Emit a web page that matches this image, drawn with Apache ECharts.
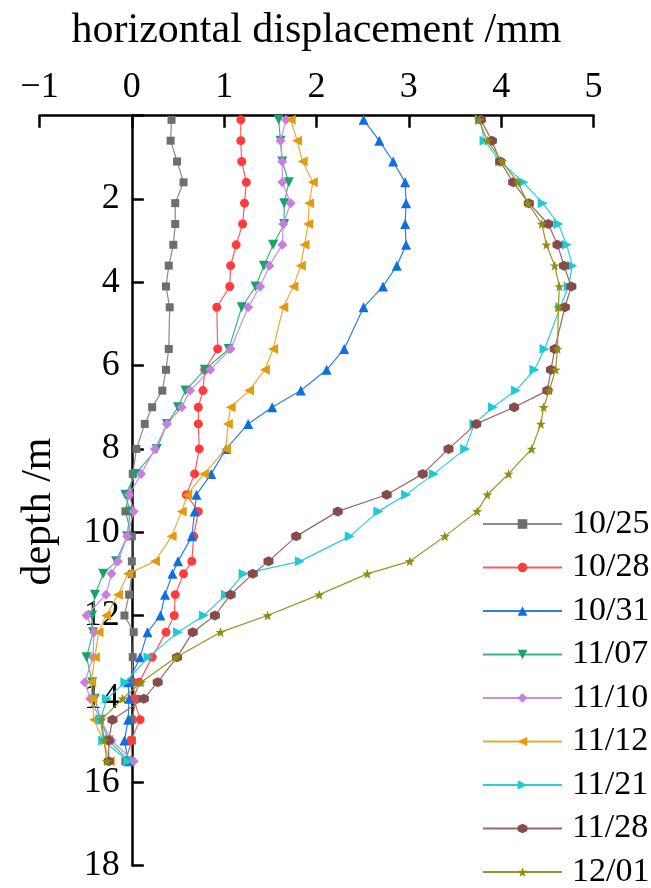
<!DOCTYPE html>
<html>
<head>
<meta charset="utf-8">
<script src="https://cdn.jsdelivr.net/npm/echarts@6/dist/echarts.min.js"></script>
<style>
  html, body { margin: 0; padding: 0; background: #fff; }
  #chart { width: 651px; height: 888px; }
</style>
</head>
<body>
<div id="chart"></div>
<script>
// measuring depths (m), shared by every date
const depths = [0.1, 0.6, 1.1, 1.6, 2.1, 2.6, 3.1, 3.6, 4.1, 4.6, 5.6, 6.1, 6.6, 7.0, 7.4, 8.0, 8.6, 9.1, 9.5, 10.1,
  10.7, 11.0, 11.5, 12.0, 12.4, 13.0, 13.6, 14.0, 14.5, 15.0, 15.5];

const dates = ['10/25', '10/28', '10/31', '11/07', '11/10', '11/12', '11/21', '11/28', '12/01'];

// horizontal displacement (mm) at each depth
const d1025 = [0.43, 0.42, 0.49, 0.56, 0.47, 0.47, 0.45, 0.40, 0.37, 0.41, 0.40, 0.37, 0.33, 0.22, 0.14, 0.05, 0.01, -0.03, -0.07, 0.00,
  0.00, 0.00, -0.03, -0.08, 0.02, 0.01, 0.00, 0.05, 0.00, 0.00, -0.07];
const d1028 = [1.18, 1.18, 1.19, 1.24, 1.22, 1.20, 1.13, 1.07, 1.06, 0.92, 0.93, 0.79, 0.77, 0.72, 0.72, 0.73, 0.68, 0.59, 0.72, 0.67,
  0.65, 0.56, 0.47, 0.46, 0.37, 0.22, 0.08, 0.02, 0.09, -0.01, 0.00];
const d1031 = [2.51, 2.68, 2.83, 2.96, 2.97, 2.96, 2.97, 2.87, 2.72, 2.51, 2.30, 2.11, 1.83, 1.52, 1.26, 1.02, 0.86, 0.70, 0.68, 0.65,
  0.50, 0.44, 0.36, 0.31, 0.17, 0.09, -0.04, -0.03, -0.04, -0.08, -0.04];
const d1107 = [1.59, 1.61, 1.63, 1.70, 1.65, 1.65, 1.53, 1.43, 1.34, 1.19, 1.05, 0.79, 0.58, 0.50, 0.38, 0.27, 0.04, -0.07, -0.02, -0.05,
  -0.17, -0.31, -0.40, -0.43, -0.42, -0.49, -0.43, -0.40, -0.34, -0.25, -0.03];
const d1110 = [1.67, 1.61, 1.63, 1.63, 1.72, 1.64, 1.63, 1.49, 1.39, 1.26, 1.07, 0.85, 0.63, 0.54, 0.38, 0.25, 0.10, -0.03, 0.02, -0.05,
  -0.15, -0.22, -0.28, -0.49, -0.41, -0.42, -0.51, -0.45, -0.34, -0.22, 0.02];
const d1112 = [1.72, 1.79, 1.85, 1.96, 1.92, 1.91, 1.87, 1.83, 1.75, 1.64, 1.53, 1.44, 1.27, 1.07, 1.04, 1.02, 0.78, 0.60, 0.54, 0.43,
  0.25, -0.04, -0.15, -0.28, -0.36, -0.40, -0.44, -0.43, -0.41, -0.31, -0.24];
const d1121 = [3.77, 3.82, 3.99, 4.24, 4.45, 4.62, 4.71, 4.77, 4.73, 4.64, 4.47, 4.36, 4.16, 3.91, 3.71, 3.61, 3.27, 2.97, 2.67, 2.36,
  1.82, 1.21, 1.02, 0.78, 0.50, 0.18, -0.07, -0.27, -0.34, -0.31, -0.04];
const d1128 = [3.78, 3.90, 3.99, 4.13, 4.30, 4.51, 4.61, 4.68, 4.76, 4.69, 4.58, 4.54, 4.50, 4.14, 3.73, 3.43, 3.15, 2.76, 2.23, 1.78,
  1.48, 1.31, 1.07, 0.90, 0.66, 0.49, 0.28, 0.13, -0.21, -0.25, -0.25];
const d1201 = [3.76, 3.85, 4.01, 4.18, 4.29, 4.44, 4.49, 4.58, 4.63, 4.62, 4.61, 4.59, 4.52, 4.46, 4.43, 4.33, 4.08, 3.85, 3.74, 3.39,
  3.01, 2.55, 2.03, 1.47, 0.96, 0.48, 0.10, -0.10, -0.33, -0.30, -0.27];

const xTicks = [-1, 0, 1, 2, 3, 4, 5];

const values = [d1025, d1028, d1031, d1107, d1110, d1112, d1121, d1128, d1201];
const colors = ['#6e6e6e', '#ff3c3c', '#0d6fe3', '#17a36c', '#c77ee0', '#e29b0c', '#1ccbd6', '#874b4b', '#8e8e10'];
const lineColors = ['#8a8a8a', '#ff5a5a', '#2a7fe6', '#3fb585', '#cb8ce4', '#e6ab3a', '#2fcdd8', '#9a6666', '#969620'];
const hexagon = 'path://M0,-10L8.66,-5L8.66,5L0,10L-8.66,5L-8.66,-5Z';
const star = 'path://M0,-10L2.35,-3.24L9.51,-3.09L3.8,1.24L5.88,8.09L0,4L-5.88,8.09L-3.8,1.24L-9.51,-3.09L-2.35,-3.24Z';
const symbols = ['rect', 'circle', 'triangle', 'triangle', 'diamond', 'triangle', 'triangle', hexagon, star];
const rotates = [0, 0, 0, 180, 0, 90, -90, 0, 0];
const sizes = [8, 9, 10, 10, 10, 10, 10, 10, 10];

const font = '"Liberation Serif", "Times New Roman", serif';

// plot box
const gridLeft = 39.5, gridRight = 57.5, chartW = 651;
// put the depth axis at x = 0
const pxPerUnit = (chartW - gridLeft - gridRight) / (xTicks[xTicks.length - 1] - xTicks[0]);
const yAxisShift = -(0 - xTicks[0]) * pxPerUnit;

let myChart = echarts.init(document.getElementById('chart'));

let series = dates.map(function(name, k) {
  return {
    name: name,
    type: 'line',
    data: depths.map(function(d, i) { return [values[k][i], d]; }),
    symbol: symbols[k],
    symbolRotate: rotates[k],
    symbolSize: sizes[k],
    showAllSymbol: true,
    lineStyle: { width: 1.2, color: lineColors[k] },
    itemStyle: { color: colors[k] },
    z: 2 + k
  };
});

let option = {
  animation: false,
  backgroundColor: '#fff',
  textStyle: { fontFamily: font },
  grid: {
    left: gridLeft,
    right: gridRight,
    top: 115.7,
    bottom: 22.6,
    outerBoundsMode: 'none'
  },
  legend: {
    orient: 'vertical',
    left: 482,
    top: 507,
    height: 420,
    padding: 0,
    itemWidth: 79,
    itemHeight: 12,
    itemGap: 9.5,
    textStyle: { fontFamily: font, fontSize: 34, color: '#000', padding: [0, 0, 0, 5] },
    data: dates
  },
  xAxis: {
    type: 'value',
    position: 'top',
    min: xTicks[0],
    max: xTicks[xTicks.length - 1],
    interval: 1,
    name: 'horizontal displacement /mm',
    nameLocation: 'middle',
    nameGap: 64,
    nameTextStyle: { fontFamily: font, fontSize: 42, color: '#000' },
    axisLine: { onZero: false, lineStyle: { color: '#000', width: 2.5 } },
    axisTick: { inside: true, length: 12, lineStyle: { color: '#000', width: 2.5 } },
    axisLabel: {
      margin: 10,
      fontFamily: font,
      fontSize: 36,
      color: '#000',
      formatter: function(v) { return v < 0 ? '\u2212' + Math.abs(v) : String(v); }
    },
    splitLine: { show: false }
  },
  yAxis: {
    type: 'value',
    inverse: true,
    min: 0,
    max: 18,
    interval: 2,
    offset: yAxisShift,
    name: 'depth /m',
    nameLocation: 'middle',
    nameGap: 72,
    nameTextStyle: { fontFamily: font, fontSize: 42, color: '#000', padding: [0, 42, 0, 0] },
    axisLine: { onZero: false, lineStyle: { color: '#000', width: 2.5 } },
    axisTick: { inside: true, length: 12, lineStyle: { color: '#000', width: 2.5 } },
    axisLabel: {
      margin: 12,
      fontFamily: font,
      fontSize: 36,
      color: '#000',
      formatter: function(v) { return v === 0 ? '' : String(v); }
    },
    splitLine: { show: false }
  },
  series: series
};

myChart.setOption(option);
window.addEventListener('resize', function() {
  myChart.resize();
});
</script>
</body>
</html>
